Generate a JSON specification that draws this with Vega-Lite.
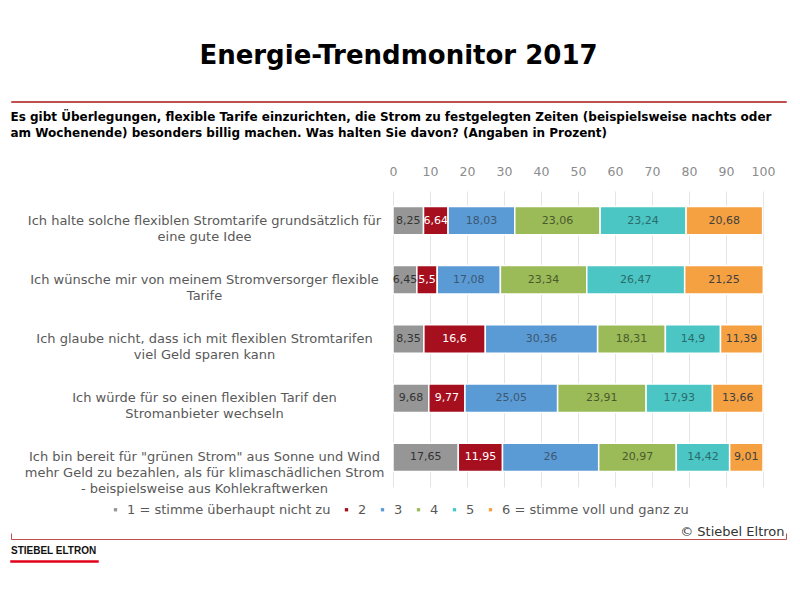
{
  "$schema": "https://vega.github.io/schema/vega-lite/v6.json",
  "background": "white",
  "padding": {"left": 10, "top": 42, "right": 5, "bottom": 5},
  "spacing": 4,
  "config": {
    "view": {"stroke": null},
    "font": "DejaVu Sans",
    "locale": {"number": {"decimal": ",", "thousands": ".", "grouping": [3], "currency": ["", " €"]}}
  },
  "vconcat": [
    {
      "width": 775,
      "height": 1,
      "view": {"stroke": "#c0504d", "strokeWidth": 1},
      "title": {"text": "Energie-Trendmonitor 2017", "fontSize": 26, "fontWeight": "bold", "color": "#000000", "anchor": "middle", "offset": 27},
      "data": {"values": [{}]},
      "mark": {"type": "text"},
      "encoding": {"text": {"value": ""}}
    },
    {
      "width": 775,
      "height": 296,
      "title": {
        "text": ["Es gibt Überlegungen, flexible Tarife einzurichten, die Strom zu festgelegten Zeiten (beispielsweise nachts oder", "am Wochenende) besonders billig machen. Was halten Sie davon? (Angaben in Prozent)"],
        "anchor": "start", "frame": "bounds", "fontSize": 12, "fontWeight": "bold", "color": "#000000", "lineHeight": 16, "offset": 25
      },
      "data": {"values": [
        {"statement": "Ich halte solche flexiblen Stromtarife grundsätzlich für|eine gute Idee", "answer": "1 = stimme überhaupt nicht zu", "k": 1, "value": 8.25},
        {"statement": "Ich halte solche flexiblen Stromtarife grundsätzlich für|eine gute Idee", "answer": "2", "k": 2, "value": 6.64},
        {"statement": "Ich halte solche flexiblen Stromtarife grundsätzlich für|eine gute Idee", "answer": "3", "k": 3, "value": 18.03},
        {"statement": "Ich halte solche flexiblen Stromtarife grundsätzlich für|eine gute Idee", "answer": "4", "k": 4, "value": 23.06},
        {"statement": "Ich halte solche flexiblen Stromtarife grundsätzlich für|eine gute Idee", "answer": "5", "k": 5, "value": 23.24},
        {"statement": "Ich halte solche flexiblen Stromtarife grundsätzlich für|eine gute Idee", "answer": "6 = stimme voll und ganz zu", "k": 6, "value": 20.68},
        {"statement": "Ich wünsche mir von meinem Stromversorger flexible|Tarife", "answer": "1 = stimme überhaupt nicht zu", "k": 1, "value": 6.45},
        {"statement": "Ich wünsche mir von meinem Stromversorger flexible|Tarife", "answer": "2", "k": 2, "value": 5.5},
        {"statement": "Ich wünsche mir von meinem Stromversorger flexible|Tarife", "answer": "3", "k": 3, "value": 17.08},
        {"statement": "Ich wünsche mir von meinem Stromversorger flexible|Tarife", "answer": "4", "k": 4, "value": 23.34},
        {"statement": "Ich wünsche mir von meinem Stromversorger flexible|Tarife", "answer": "5", "k": 5, "value": 26.47},
        {"statement": "Ich wünsche mir von meinem Stromversorger flexible|Tarife", "answer": "6 = stimme voll und ganz zu", "k": 6, "value": 21.25},
        {"statement": "Ich glaube nicht, dass ich mit flexiblen Stromtarifen|viel Geld sparen kann", "answer": "1 = stimme überhaupt nicht zu", "k": 1, "value": 8.35},
        {"statement": "Ich glaube nicht, dass ich mit flexiblen Stromtarifen|viel Geld sparen kann", "answer": "2", "k": 2, "value": 16.6},
        {"statement": "Ich glaube nicht, dass ich mit flexiblen Stromtarifen|viel Geld sparen kann", "answer": "3", "k": 3, "value": 30.36},
        {"statement": "Ich glaube nicht, dass ich mit flexiblen Stromtarifen|viel Geld sparen kann", "answer": "4", "k": 4, "value": 18.31},
        {"statement": "Ich glaube nicht, dass ich mit flexiblen Stromtarifen|viel Geld sparen kann", "answer": "5", "k": 5, "value": 14.9},
        {"statement": "Ich glaube nicht, dass ich mit flexiblen Stromtarifen|viel Geld sparen kann", "answer": "6 = stimme voll und ganz zu", "k": 6, "value": 11.39},
        {"statement": "Ich würde für so einen flexiblen Tarif den|Stromanbieter wechseln", "answer": "1 = stimme überhaupt nicht zu", "k": 1, "value": 9.68},
        {"statement": "Ich würde für so einen flexiblen Tarif den|Stromanbieter wechseln", "answer": "2", "k": 2, "value": 9.77},
        {"statement": "Ich würde für so einen flexiblen Tarif den|Stromanbieter wechseln", "answer": "3", "k": 3, "value": 25.05},
        {"statement": "Ich würde für so einen flexiblen Tarif den|Stromanbieter wechseln", "answer": "4", "k": 4, "value": 23.91},
        {"statement": "Ich würde für so einen flexiblen Tarif den|Stromanbieter wechseln", "answer": "5", "k": 5, "value": 17.93},
        {"statement": "Ich würde für so einen flexiblen Tarif den|Stromanbieter wechseln", "answer": "6 = stimme voll und ganz zu", "k": 6, "value": 13.66},
        {"statement": "Ich bin bereit für \"grünen Strom\" aus Sonne und Wind|mehr Geld zu bezahlen, als für klimaschädlichen Strom|- beispielsweise aus Kohlekraftwerken", "answer": "1 = stimme überhaupt nicht zu", "k": 1, "value": 17.65},
        {"statement": "Ich bin bereit für \"grünen Strom\" aus Sonne und Wind|mehr Geld zu bezahlen, als für klimaschädlichen Strom|- beispielsweise aus Kohlekraftwerken", "answer": "2", "k": 2, "value": 11.95},
        {"statement": "Ich bin bereit für \"grünen Strom\" aus Sonne und Wind|mehr Geld zu bezahlen, als für klimaschädlichen Strom|- beispielsweise aus Kohlekraftwerken", "answer": "3", "k": 3, "value": 26},
        {"statement": "Ich bin bereit für \"grünen Strom\" aus Sonne und Wind|mehr Geld zu bezahlen, als für klimaschädlichen Strom|- beispielsweise aus Kohlekraftwerken", "answer": "4", "k": 4, "value": 20.97},
        {"statement": "Ich bin bereit für \"grünen Strom\" aus Sonne und Wind|mehr Geld zu bezahlen, als für klimaschädlichen Strom|- beispielsweise aus Kohlekraftwerken", "answer": "5", "k": 5, "value": 14.42},
        {"statement": "Ich bin bereit für \"grünen Strom\" aus Sonne und Wind|mehr Geld zu bezahlen, als für klimaschädlichen Strom|- beispielsweise aus Kohlekraftwerken", "answer": "6 = stimme voll und ganz zu", "k": 6, "value": 9.01}
      ]},
      "encoding": {
        "y": {
          "field": "statement", "type": "nominal", "sort": null,
          "scale": {"paddingInner": 0.52, "paddingOuter": 0.26},
          "axis": {
            "title": null, "domain": false, "ticks": false, "tickSize": 0,
            "labelAlign": "center", "labelBaseline": "middle", "labelPadding": -193,
            "labelFontSize": 13, "labelColor": "#595959", "labelLineHeight": 16, "labelLimit": 1000,
            "labelExpr": "split(datum.label, '|')"
          }
        }
      },
      "layer": [
        {
          "mark": {"type": "bar", "stroke": "white", "strokeWidth": 1.5},
          "encoding": {
            "x": {
              "field": "value", "type": "quantitative", "stack": "zero",
              "scale": {"domain": [-103.24, 106.22], "nice": false, "zero": false},
              "axis": {
                "orient": "top", "values": [0, 10, 20, 30, 40, 50, 60, 70, 80, 90, 100],
                "grid": true, "gridColor": "#e4e4e4", "domain": false, "ticks": false, "tickSize": 0,
                "labelFlush": false,
                "labelColor": "#8c8c8c", "labelFontSize": 12.5, "labelPadding": 13, "title": null
              }
            },
            "color": {
              "field": "answer", "type": "nominal",
              "scale": {
                "domain": ["1 = stimme überhaupt nicht zu", "2", "3", "4", "5", "6 = stimme voll und ganz zu"],
                "range": ["#969696", "#a50f1e", "#5b9bd5", "#9bbb59", "#4bc6c4", "#f5a142"]
              },
              "legend": {
                "orient": "none", "legendX": 98, "legendY": 402, "direction": "horizontal",
                "title": null, "symbolType": "square", "symbolSize": 30, "symbolStrokeWidth": 0,
                "labelFontSize": 13, "labelColor": "#595959", "columnPadding": 9, "labelOffset": 5, "labelLimit": 400
              }
            },
            "order": {"field": "k", "type": "quantitative"}
          }
        },
        {
          "transform": [
            {"stack": "value", "groupby": ["statement"], "sort": [{"field": "k", "order": "ascending"}], "as": ["v0", "v1"]},
            {"fold": ["v0", "v1"], "as": ["edge", "pos"]}
          ],
          "mark": {"type": "text", "baseline": "middle", "align": "center"},
          "encoding": {
            "x": {
              "aggregate": "mean", "field": "pos", "type": "quantitative",
              "axis": {
                "orient": "bottom", "offset": 52, "values": [-103.24, 106.22],
                "labels": false, "grid": false,
                "domain": true, "domainColor": "#c0504d", "domainWidth": 1,
                "ticks": true, "tickSize": -6, "tickColor": "#c0504d", "tickWidth": 1,
                "title": "© Stiebel Eltron", "titleAnchor": "end", "titleAlign": "right",
                "titleX": 773, "titleY": -4, "titleBaseline": "alphabetic",
                "titleFontSize": 13, "titleFontWeight": "normal", "titleColor": "#333333"
              }
            },
            "text": {"field": "value", "type": "quantitative", "format": "~f"},
            "fill": {
              "field": "answer", "type": "nominal",
              "scale": {
                "domain": ["1 = stimme überhaupt nicht zu", "2", "3", "4", "5", "6 = stimme voll und ganz zu"],
                "range": ["#333333", "#ffffff", "#3b5873", "#4a5a2c", "#2c6b6b", "#3f3f3f"]
              },
              "legend": null
            },
            "size": {
              "field": "answer", "type": "ordinal",
              "scale": {
                "domain": ["1 = stimme überhaupt nicht zu", "2", "3", "4", "5", "6 = stimme voll und ganz zu"],
                "range": [11, 11, 11, 11, 11, 13.5]
              },
              "legend": null
            }
          }
        }
      ]
    },
    {
      "width": 87,
      "height": 1,
      "view": {"stroke": "#e2001a", "strokeWidth": 1.5},
      "title": {"text": "STIEBEL ELTRON", "anchor": "start", "fontSize": 10, "fontWeight": "bold", "font": "Liberation Sans", "color": "#111111", "offset": 0},
      "data": {"values": [{}]},
      "mark": {"type": "text"},
      "encoding": {"text": {"value": ""}}
    }
  ]
}
